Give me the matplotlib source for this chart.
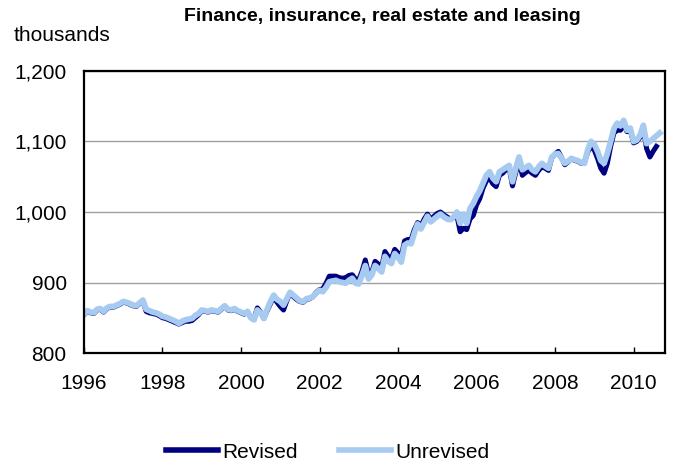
import matplotlib
matplotlib.use("Agg")
from matplotlib import pyplot as plt

plt.rcParams["font.family"] = ["Liberation Sans", "DejaVu Sans"]

# monthly employment, thousands, starting January 1996
revised = [854, 859, 857, 856, 861, 862, 858, 863, 865, 865, 867, 869,
           872, 871, 869, 867, 866, 870, 874, 859, 857, 856, 855, 853,
           850, 849, 847, 845, 843, 841, 843, 845, 845, 846, 850, 854,
           860, 859, 858, 860, 859, 858, 862, 866, 861, 860, 862, 859,
           857, 855, 858, 850, 849, 864, 858, 849, 860, 870, 880, 872,
           866, 861, 874, 885, 880, 876, 873, 872, 876, 877, 880, 886,
           890, 891, 899, 909, 909, 909, 907, 906, 907, 910, 911, 905,
           904, 916, 932, 912, 915, 930, 926, 922, 944, 937, 934, 947,
           942, 937, 959, 961, 961, 975, 985, 980, 990, 997, 990, 994,
           998, 1000, 996, 993, 990, 992, 995, 972, 977, 975, 990, 995,
           1010, 1019, 1034, 1044, 1048, 1040, 1036, 1052, 1055, 1060, 1062, 1037,
           1056, 1073, 1052, 1056, 1059, 1055, 1052, 1059, 1064, 1062, 1059, 1077,
           1082, 1086, 1077, 1067, 1071, 1076, 1073, 1072, 1069, 1071, 1085, 1093,
           1088, 1076, 1062, 1055, 1069, 1093, 1112, 1116, 1116, 1124, 1114, 1116,
           1098, 1100, 1106, 1118, 1090, 1078, 1086, 1093]

unrevised = [855, 860, 858, 857, 862, 863, 859, 864, 866, 866, 868, 870,
             873, 872, 870, 868, 867, 871, 875, 862, 860, 858, 857, 855,
             852, 851, 849, 847, 845, 842, 845, 847, 848, 849, 853, 856,
             861, 860, 859, 861, 860, 859, 863, 867, 862, 861, 863, 860,
             858, 856, 859, 850, 847, 861, 857, 849, 862, 873, 882, 876,
             873, 868, 877, 886, 882, 878, 874, 873, 877, 878, 880, 885,
             889, 887, 893, 901, 902, 903, 901, 900, 899, 903, 906, 899,
             898, 910, 924, 905, 911, 924, 920, 915, 937, 930, 927, 941,
             936, 929, 953, 956, 955, 970, 983, 976, 985, 994, 986, 990,
             994, 997, 993, 990, 989, 993, 1000, 984, 997, 984, 1005, 1012,
             1022, 1030, 1041, 1052, 1057, 1048, 1043, 1057, 1060, 1063, 1066, 1043,
             1062, 1078, 1060, 1063, 1066, 1060, 1057, 1064, 1069, 1065, 1062, 1078,
             1082, 1083, 1076, 1069, 1072, 1076, 1074, 1073, 1070, 1069, 1088, 1100,
             1096, 1086, 1073, 1069, 1083, 1100, 1118, 1126, 1122, 1130, 1116, 1119,
             1100, 1102, 1109, 1123, 1097, 1100, 1104, 1108, 1112]

years = [1996, 1998, 2000, 2002, 2004, 2006, 2008, 2010]

fig = plt.figure(figsize=(6.73, 4.68), dpi=100)
ax = fig.add_axes([0.1248, 0.2457, 0.8632, 0.6026])

ax.plot(range(len(revised)), revised, color="#000080", lw=3.6,
        solid_joinstyle="round", label="Revised")
ax.plot(range(len(unrevised)), unrevised, color="#A6CAF0", lw=4.2,
        solid_joinstyle="round", label="Unrevised")

ax.set_xlim(0, 177.6)
ax.set_ylim(800, 1200)
ax.set_yticks([800, 900, 1000, 1100, 1200])
ax.set_yticklabels(["800", "900", "1,000", "1,100", "1,200"])
ax.set_xticks([(y - 1996) * 12 for y in years])
ax.set_xticklabels([str(y) for y in years])

ax.grid(axis="y", color="#A0A0A0", lw=1)
ax.set_axisbelow(True)
ax.tick_params(axis="y", length=0, pad=12.5, labelsize=15)
ax.tick_params(axis="x", direction="in", length=4, width=1, pad=15, labelsize=15)
for s in ax.spines.values():
    s.set_linewidth(1.6)
    s.set_color("black")

fig.text(0.568, 0.955, "Finance, insurance, real estate and leasing",
         ha="center", va="baseline", fontsize=14, fontweight="bold")
fig.text(0.0208, 0.913, "thousands", ha="left", va="baseline", fontsize=15)

leg = fig.legend(loc="center", bbox_to_anchor=(0.487, 0.034), ncol=2,
                 frameon=False, fontsize=15, handlelength=2.5,
                 handletextpad=0.2, columnspacing=2.0)
for line in leg.get_lines():
    line.set_linewidth(4)

fig.savefig("out.png", dpi=100)
